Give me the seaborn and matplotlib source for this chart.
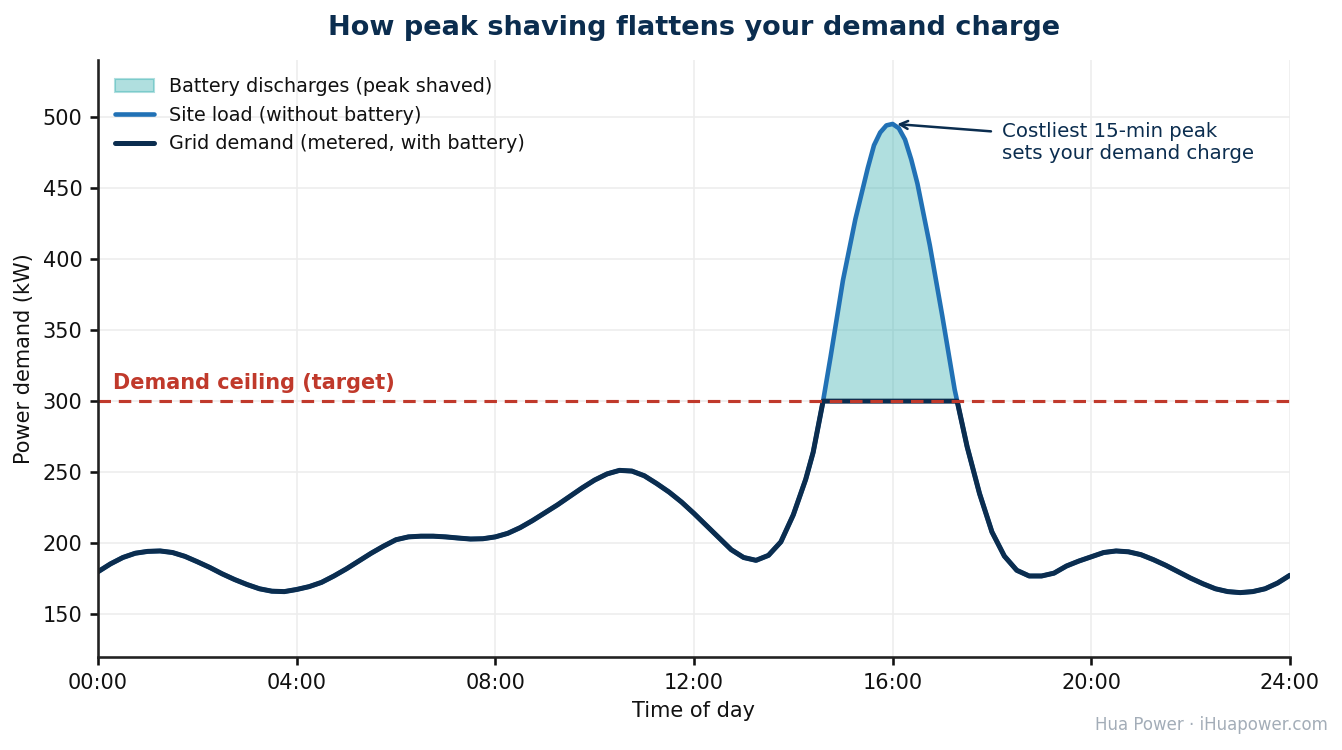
import numpy as np
import pandas as pd
import seaborn as sns
from matplotlib import pyplot as plt
from matplotlib.patches import Patch
from matplotlib.lines import Line2D

# values (hour of day, kW)
hours = [0.0, 0.25, 0.5, 0.75, 1.0, 1.25, 1.5, 1.75, 2.0, 2.25, 2.5, 2.75, 3.0, 3.25,
         3.5, 3.75, 4.0, 4.25, 4.5, 4.75, 5.0, 5.25, 5.5, 5.75, 6.0, 6.25, 6.5, 6.75,
         7.0, 7.25, 7.5, 7.75, 8.0, 8.25, 8.5, 8.75, 9.0, 9.25, 9.5, 9.75, 10.0, 10.25,
         10.5, 10.75, 11.0, 11.25, 11.5, 11.75, 12.0, 12.25, 12.5, 12.75, 13.0, 13.25,
         13.5, 13.75, 14.0, 14.25, 14.4, 14.5, 14.6, 14.75, 15.0, 15.25, 15.5, 15.625,
         15.75, 15.875, 16.0, 16.125, 16.25, 16.375, 16.5, 16.75, 17.0, 17.25, 17.3,
         17.5, 17.75, 18.0, 18.25, 18.5, 18.75, 19.0, 19.25, 19.5, 19.75, 20.0, 20.25,
         20.5, 20.75, 21.0, 21.25, 21.5, 21.75, 22.0, 22.25, 22.5, 22.75, 23.0, 23.25,
         23.5, 23.75, 24.0]
site_load = [180, 185.5, 190, 193, 194.3, 194.6, 193.5, 190.8, 187, 183, 178.5, 174.5,
             171, 168, 166.3, 166, 167.5, 169.5, 172.5, 177, 182, 187.5, 193, 198, 202.5,
             204.5, 205, 205, 204.5, 203.7, 203, 203.2, 204.5, 207, 211, 216, 221.5, 227,
             233, 239, 244.5, 248.8, 251.3, 250.8, 247.5, 242, 236, 229, 221, 212.5, 204,
             195.5, 190, 188, 191.5, 201, 220, 245, 264, 282, 300, 331, 385, 428, 464, 480,
             489, 494, 495, 492, 484, 470, 453, 409.5, 360, 308, 300, 268, 235, 208, 191,
             181, 177, 177, 179, 184, 187.5, 190.5, 193.5, 194.6, 194, 192, 188.5, 184.5,
             180, 175.5, 171.5, 168, 166, 165.3, 166, 168, 172, 177.5]
ceiling = 300
tick_hours = [0, 4, 8, 12, 16, 20, 24]
tick_labels = ['00:00', '04:00', '08:00', '12:00', '16:00', '20:00', '24:00']

df = pd.DataFrame({'hour': hours, 'load': site_load})
df['grid'] = np.minimum(df['load'], ceiling)

navy = '#0b2d4f'
blue = '#2171b5'
red = '#c0392b'
teal = '#1da6a6'

sns.set_theme(style='ticks', rc={'text.color': '#111111', 'axes.labelcolor': '#111111',
                                 'xtick.color': '#111111', 'ytick.color': '#111111'})
plt.rcParams['font.family'] = ['DejaVu Sans']

fig, ax = plt.subplots(figsize=(8.953, 5), dpi=150)
fig.subplots_adjust(left=0.073, right=0.9605, top=0.92, bottom=0.124)

ax.grid(True, color='#ededed', linewidth=0.8)
ax.set_axisbelow(True)

ax.fill_between(df['hour'], ceiling, df['load'], where=df['load'] >= ceiling,
                color=teal, alpha=0.35, linewidth=0, interpolate=True)
sns.lineplot(data=df, x='hour', y='load', ax=ax, color=blue, linewidth=2.2)
sns.lineplot(data=df, x='hour', y='grid', ax=ax, color=navy, linewidth=2.4)
ax.axhline(ceiling, color=red, linestyle='--', linewidth=1.5, dashes=(4, 2.5))

ax.text(0.3, ceiling + 6, 'Demand ceiling (target)', color=red, fontsize=10,
        fontweight='bold', va='bottom', ha='left')

ax.annotate('Costliest 15-min peak\nsets your demand charge', xy=(16.05, 495),
            xytext=(18.2, 482), color=navy, fontsize=9.5, va='center', ha='left',
            arrowprops=dict(arrowstyle='->', color=navy, lw=1.2, relpos=(0, 0.75),
                            shrinkA=3, shrinkB=1))

ax.set_xlim(0, 24)
ax.set_ylim(120, 540)
ax.set_xticks(tick_hours)
ax.set_xticklabels(tick_labels)
ax.set_yticks(range(150, 501, 50))
ax.tick_params(labelsize=10, length=4)
ax.set_xlabel('Time of day', fontsize=10)
ax.set_ylabel('Power demand (kW)', fontsize=10)
ax.set_title('How peak shaving flattens your demand charge', fontsize=13,
             fontweight='bold', color=navy, pad=12)
sns.despine(ax=ax)
for s in ['left', 'bottom']:
    ax.spines[s].set_color('#222222')

handles = [Patch(facecolor=teal, edgecolor=teal, alpha=0.35, label='Battery discharges (peak shaved)'),
           Line2D([0], [0], color=blue, linewidth=2.2, label='Site load (without battery)'),
           Line2D([0], [0], color=navy, linewidth=2.4, label='Grid demand (metered, with battery)')]
ax.legend(handles=handles, loc='upper left', frameon=False, fontsize=9.2,
          borderaxespad=0.5, handlelength=2.0)

fig.text(0.989, 0.022, 'Hua Power · iHuapower.com', ha='right', va='bottom',
         color='#a3adb8', fontsize=8)

fig.savefig('out.png', dpi=150)
